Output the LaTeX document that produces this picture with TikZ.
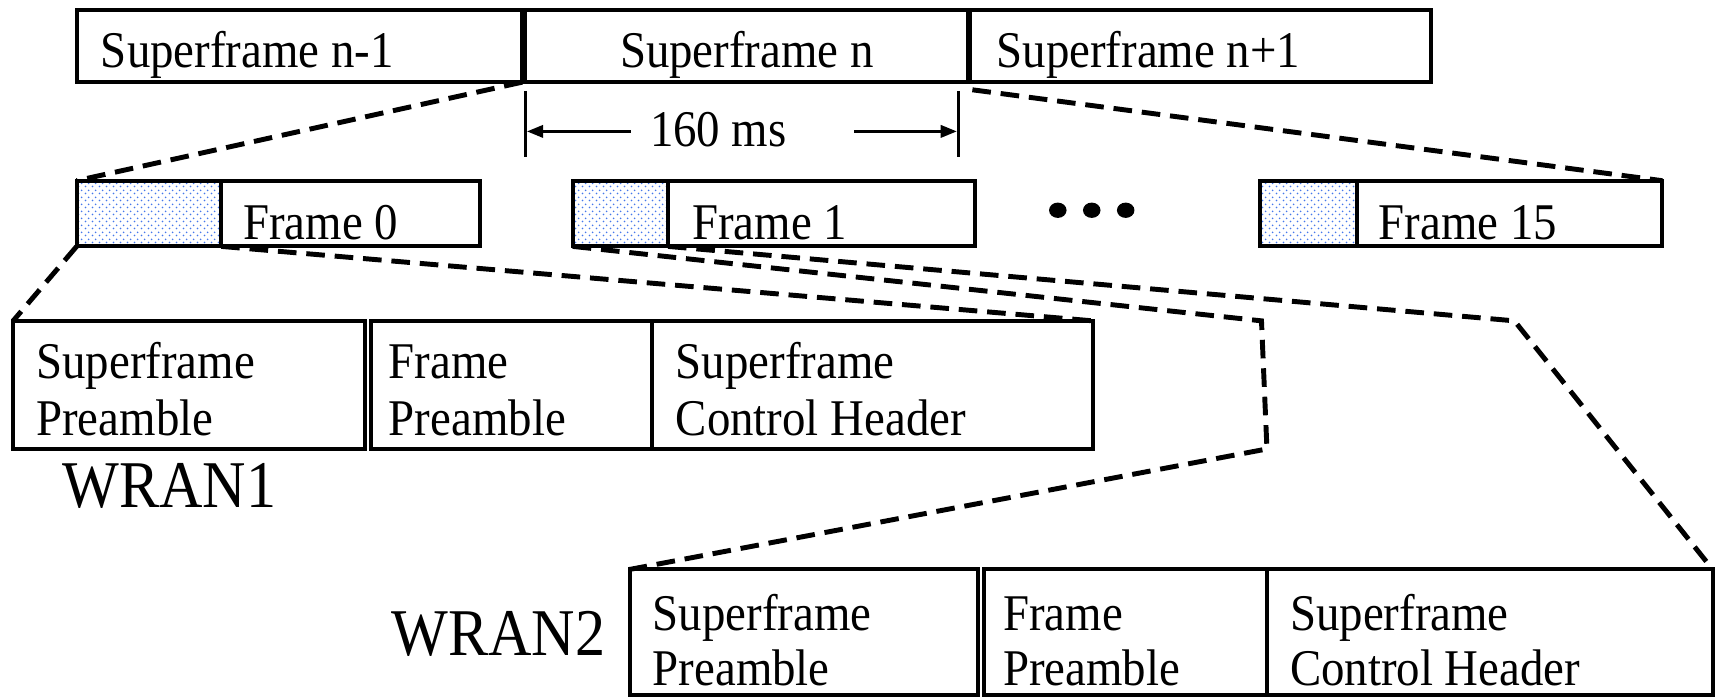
\documentclass[tikz,border=0pt]{standalone}
\usepackage{fontspec}
\setmainfont{Liberation Serif}
\newfontfamily\narrowserif[FakeStretch=0.91]{Liberation Serif}
\newfontfamily\narrowbig[FakeStretch=0.9]{Liberation Serif}
\usetikzlibrary{arrows.meta,patterns}
\pgfdeclarepatternformonly{sparsedots}{\pgfpointorigin}{\pgfpoint{6.4pt}{6.4pt}}{\pgfpoint{6.4pt}{6.4pt}}{%
  \pgfpathcircle{\pgfpoint{1.6pt}{1.6pt}}{0.95pt}%
  \pgfpathcircle{\pgfpoint{4.8pt}{4.8pt}}{0.95pt}%
  \pgfusepath{fill}}
\begin{document}
\begin{tikzpicture}[x=1pt,y=-1pt,
  box/.style={draw, line width=3.7pt, inner sep=0pt, outer sep=0pt, anchor=north west},
  shadebox/.style={box, pattern=sparsedots, pattern color={rgb,255:red,70;green,120;blue,235}},
  txt/.style={font=\narrowserif\fontsize{47}{55}\selectfont, inner sep=0pt, anchor=base west},
  bigtxt/.style={font=\narrowbig\fontsize{61}{70}\selectfont, inner sep=0pt},
  zoomline/.style={line width=4.5pt, dash pattern=on 17pt off 9pt},
  tickline/.style={line width=3pt},
  dimarrow/.style={line width=3.2pt, -{Triangle[length=15pt,width=11pt]}}]
\useasboundingbox (0,0) rectangle (1568,638);

% top row
\node[box, minimum width=407pt, minimum height=66pt] (sfA) at (70,9) {};
\node[box, minimum width=405pt, minimum height=66pt] (sfB) at (479,9) {};
\node[box, minimum width=421pt, minimum height=66pt] (sfC) at (886,9) {};
\node[txt] (tA) at (92,62) {Superframe n-1};
\node[txt, anchor=base] (tB) at (682,62) {Superframe n};
\node[txt] (tC) at (910,62) {Superframe n+1};

% dimension
\coordinate (d1a) at (480,83); \coordinate (d1b) at (480,143);
\coordinate (d2a) at (875,83); \coordinate (d2b) at (875,143);
\draw[tickline] (d1a) -- (d1b);
\draw[tickline] (d2a) -- (d2b);
\node[txt, anchor=base] (ms) at (656,134) {160 ms};
\coordinate (arL) at (576,120); \coordinate (arR) at (780,120);
\coordinate (arLe) at (481,120); \coordinate (arRe) at (874,120);
\draw[dimarrow] (arL) -- (arLe);
\draw[dimarrow] (arR) -- (arRe);

% frames
\node[shadebox, minimum width=132pt, minimum height=60pt] (f0p) at (70,165) {};
\node[box, minimum width=368pt, minimum height=60pt] (f0) at (70,165) {};
\node[shadebox, minimum width=87pt, minimum height=60pt] (f1p) at (523,165) {};
\node[box, minimum width=367pt, minimum height=60pt] (f1) at (523,165) {};
\node[shadebox, minimum width=88pt, minimum height=60pt] (f15p) at (1151,165) {};
\node[box, minimum width=367pt, minimum height=60pt] (f15) at (1151,165) {};
\node[txt] (tf0) at (222,219) {Frame 0};
\node[txt] (tf1) at (632,219) {Frame 1};
\node[txt] (tf15) at (1259,219) {Frame 15};
\fill (966,192) ellipse (8pt and 7pt);
\fill (997,192) ellipse (8pt and 7pt);
\fill (1028,192) ellipse (8pt and 7pt);

% WRAN1
\node[box, minimum width=321pt, minimum height=117pt] (w1a) at (12,293) {};
\node[box, minimum width=256pt, minimum height=117pt] (w1b) at (339,293) {};
\node[box, minimum width=403pt, minimum height=117pt] (w1c) at (595,293) {};
\node[txt] at (33,346) {Superframe};
\node[txt] at (33,398) {Preamble};
\node[txt] at (355,346) {Frame};
\node[txt] at (355,398) {Preamble};
\node[txt] at (617,346) {Superframe};
\node[txt] at (617,398) {Control Header};
\node[bigtxt, anchor=base west] (wr1) at (57,463) {WRAN1};

% WRAN2
\node[box, minimum width=318pt, minimum height=115pt] (w2a) at (575,520) {};
\node[box, minimum width=258pt, minimum height=115pt] (w2b) at (899,520) {};
\node[box, minimum width=407pt, minimum height=115pt] (w2c) at (1157,520) {};
\node[txt] at (596,576) {Superframe};
\node[txt] at (596,626) {Preamble};
\node[txt] at (916,576) {Frame};
\node[txt] at (916,626) {Preamble};
\node[txt] at (1178,576) {Superframe};
\node[txt] at (1178,626) {Control Header};
\node[bigtxt, anchor=base east] (wr2) at (553,599) {WRAN2};

% zoom lines
\coordinate (z2s) at (888,82);
\draw[zoomline] (sfA.south east) -- (f0.north west);
\draw[zoomline] (z2s) -- (f15.north east);
\draw[zoomline] (f0.south west) -- (w1a.north west);
\draw[zoomline] (f0p.south east) -- (w1c.north east);
\coordinate (c1) at (1152,293); \coordinate (c2) at (1157,410);
\coordinate (c3) at (1383,293);
\draw[zoomline] (f1.south west) -- (c1) -- (c2) -- (w2a.north west);
\draw[zoomline] (f1p.south east) -- (c3) -- (w2c.north east);
\end{tikzpicture}
\end{document}
